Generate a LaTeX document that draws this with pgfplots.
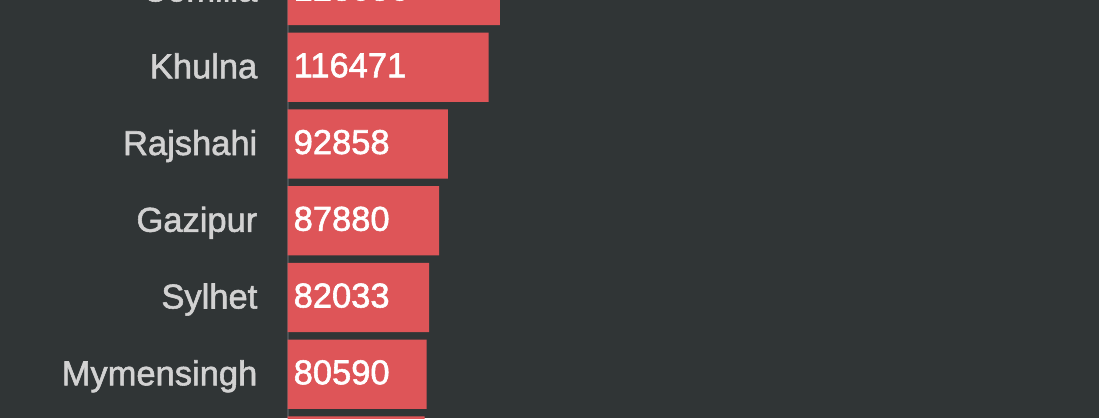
\documentclass[border=0pt]{standalone}
\usepackage{pgfplots}
\pgfplotsset{compat=1.18}
\usepackage{fontspec}
\setmainfont{Liberation Sans}
\newfontfamily\medfont{Liberation Sans}[FakeBold=1.6]
\definecolor{bg}{HTML}{303536}
\definecolor{barc}{HTML}{DE5558}
\definecolor{cat}{HTML}{D2D2D2}
\definecolor{axc}{HTML}{4B5154}
\begin{document}
\begin{tikzpicture}[x=1pt,y=1pt]
\useasboundingbox (0,0) rectangle (1099,418);
\fill[bg] (0,0) rectangle (1099,418);
\clip (0,0) rectangle (1099,418);
\begin{axis}[
  at={(287.5pt,0pt)}, anchor=south west,
  scale only axis, width=811.5pt, height=473.55pt,
  xmin=0, xmax=470160,
  ymin=-5.570, ymax=0.6,
  enlargelimits=false,
  axis x line=none,
  axis y line*=left,
  axis line style={axc, line width=2pt},
  ytick={0,-1,-2,-3,-4,-5,-6},
  yticklabels={Comilla,Khulna,Rajshahi,Gazipur,Sylhet,Mymensingh,Narayanganj},
  major tick length=0pt,
  y tick label style={anchor=base east, inner sep=0pt, xshift=-30pt, yshift=-11pt,
    text=cat, font=\medfont\fontsize{34.5}{40}\selectfont},
  clip=false,
]
\addplot[xbar, bar width=0.9, fill=barc, draw=none] coordinates {
  (123056,0) (116471,-1) (92858,-2) (87880,-3) (82033,-4) (80590,-5) (79400,-6)
};
\addplot[draw=none, mark=none, nodes near coords, point meta=explicit symbolic,
  nodes near coords style={anchor=base west, inner sep=0pt, xshift=6pt, yshift=-10pt,
    text=white, font=\medfont\fontsize{34.5}{40}\selectfont}] coordinates {
  (0,0) [123056] (0,-1) [116471] (0,-2) [92858] (0,-3) [87880]
  (0,-4) [82033] (0,-5) [80590] (0,-6) [79400]
};
\end{axis}
\end{tikzpicture}
\end{document}
